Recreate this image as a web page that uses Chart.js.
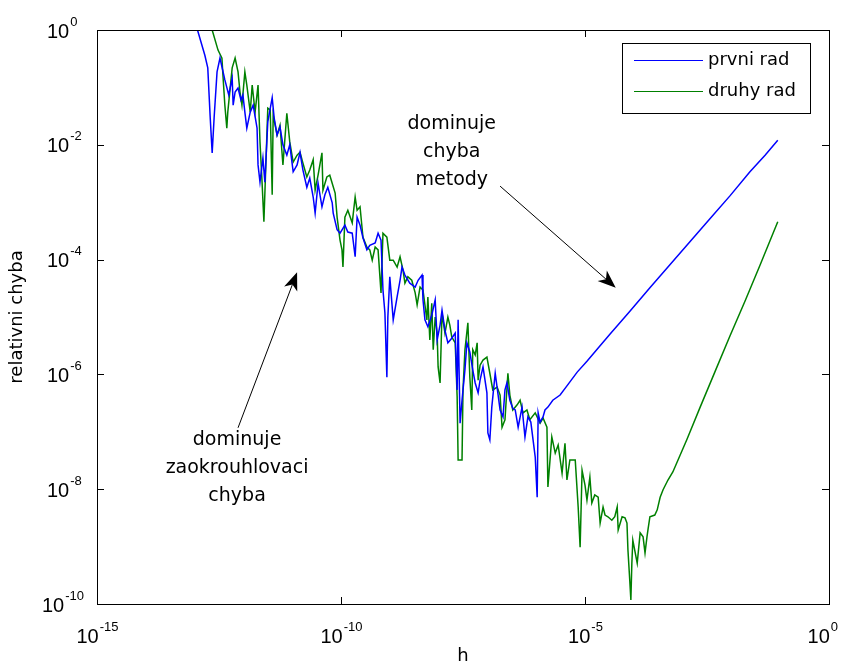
<!DOCTYPE html>
<html>
<head>
<meta charset="utf-8">
<script src="https://cdn.jsdelivr.net/npm/chart.js@4.4.1/dist/chart.umd.min.js"></script>
<style>
  html, body { margin: 0; padding: 0; background: #ffffff; }
  canvas { display: block; }
</style>
</head>
<body>
<canvas id="chart" width="842" height="668"></canvas>
<script>
'use strict';

// log10 of step h and of relative error
const hExpFirst = [
  -13.03, -12.79, -12.73, -12.68, -12.64, -12.60, -12.54, -12.48, -12.38, -12.30,
  -12.23, -12.21, -12.17, -12.11, -12.05, -12.01, -11.97, -11.93, -11.86, -11.80,
  -11.72, -11.70, -11.66, -11.60, -11.56, -11.50, -11.41, -11.37, -11.31, -11.25,
  -11.19, -11.11, -11.05, -10.98, -10.90, -10.84, -10.78, -10.70, -10.64, -10.57,
  -10.53, -10.47, -10.39, -10.33, -10.27, -10.18, -10.16, -10.08, -10.02, -9.92,
  -9.86, -9.77, -9.71, -9.67, -9.61, -9.55, -9.47, -9.41, -9.30, -9.24,
  -9.18, -9.14, -9.10, -9.06, -9.04, -9.00, -8.93, -8.85, -8.79, -8.75,
  -8.69, -8.59, -8.48, -8.42, -8.34, -8.32, -8.28, -8.22, -8.14, -8.07,
  -8.03, -7.97, -7.93, -7.87, -7.81, -7.73, -7.66, -7.62, -7.60, -7.56,
  -7.52, -7.46, -7.42, -7.36, -7.30, -7.25, -7.19, -7.15, -7.09, -7.01,
  -6.99, -6.95, -6.91, -6.84, -6.78, -6.74, -6.68, -6.64, -6.60, -6.54,
  -6.48, -6.43, -6.37, -6.29, -6.23, -6.17, -6.11, -6.02, -5.98, -5.96,
  -5.92, -5.86, -5.82, -5.76, -5.66, -5.51, -5.37, -5.16, -4.96, -4.73,
  -4.49, -4.08, -3.67, -3.26, -2.85, -2.44, -2.03, -1.62, -1.31, -1.05
];
const errExpFirst = [
  0.26, -0.44, -0.66, -1.53, -2.14, -1.53, -0.73, -0.49, -0.87, -1.13,
  -0.84, -1.31, -1.08, -1.01, -1.22, -1.13, -1.43, -1.71, -1.43, -1.31,
  -1.71, -2.35, -2.65, -2.23, -2.65, -1.60, -1.18, -1.53, -1.83, -1.69,
  -2.00, -2.18, -2.00, -2.47, -2.35, -2.13, -2.44, -2.74, -2.58, -2.91,
  -3.19, -2.67, -3.08, -2.87, -2.74, -3.01, -3.19, -3.48, -3.54, -3.40,
  -3.52, -3.54, -3.95, -3.26, -3.40, -3.62, -3.83, -3.75, -3.71, -3.54,
  -3.66, -4.53, -4.93, -6.05, -5.00, -4.30, -5.05, -4.65, -4.36, -4.13,
  -4.27, -4.41, -4.48, -4.36, -4.27, -4.70, -5.05, -5.17, -4.97, -4.70,
  -5.40, -5.14, -4.88, -5.23, -5.45, -5.37, -5.28, -6.27, -5.05, -6.85,
  -6.45, -5.92, -5.45, -5.61, -5.92, -6.15, -6.32, -6.10, -5.87, -6.32,
  -7.02, -7.14, -6.57, -5.98, -6.36, -6.62, -6.74, -6.27, -6.15, -6.45,
  -6.59, -6.62, -6.92, -6.57, -7.09, -6.74, -6.83, -7.44, -8.14, -6.67,
  -6.83, -6.74, -6.62, -6.57, -6.45, -6.36, -6.20, -5.96, -5.77, -5.54,
  -5.30, -4.90, -4.49, -4.09, -3.69, -3.29, -2.89, -2.47, -2.18, -1.92
];

const hExpSecond = [
  -12.73, -12.64, -12.52, -12.44, -12.42, -12.38, -12.34, -12.32, -12.23, -12.17,
  -12.11, -12.07, -12.03, -11.97, -11.93, -11.86, -11.82, -11.76, -11.70, -11.66,
  -11.62, -11.58, -11.54, -11.50, -11.45, -11.41, -11.39, -11.31, -11.25, -11.19,
  -11.11, -11.05, -10.98, -10.90, -10.84, -10.78, -10.70, -10.64, -10.57, -10.53,
  -10.47, -10.39, -10.37, -10.29, -10.23, -10.12, -10.08, -10.02, -9.98, -9.96,
  -9.92, -9.86, -9.77, -9.71, -9.67, -9.61, -9.55, -9.47, -9.41, -9.36,
  -9.30, -9.24, -9.18, -9.14, -9.06, -9.00, -8.93, -8.85, -8.79, -8.73,
  -8.69, -8.63, -8.55, -8.48, -8.44, -8.38, -8.32, -8.24, -8.22, -8.18,
  -8.14, -8.11, -8.07, -8.03, -8.01, -7.97, -7.93, -7.87, -7.81, -7.77,
  -7.73, -7.66, -7.62, -7.60, -7.52, -7.50, -7.46, -7.40, -7.36, -7.32,
  -7.30, -7.25, -7.21, -7.19, -7.15, -7.09, -7.01, -6.95, -6.89, -6.80,
  -6.74, -6.70, -6.64, -6.58, -6.54, -6.48, -6.39, -6.33, -6.27, -6.19,
  -6.13, -6.02, -5.92, -5.86, -5.78, -5.76, -5.68, -5.61, -5.55, -5.47,
  -5.41, -5.37, -5.31, -5.20, -5.14, -5.10, -5.06, -5.00, -4.96, -4.90,
  -4.86, -4.80, -4.73, -4.69, -4.63, -4.59, -4.53, -4.45, -4.39, -4.34,
  -4.32, -4.24, -4.18, -4.14, -4.12, -4.08, -4.06, -4.04, -4.02, -3.93,
  -3.87, -3.81, -3.77, -3.73, -3.71, -3.67, -3.57, -3.52, -3.46, -3.40,
  -3.30, -3.20, -2.91, -2.64, -2.34, -2.03, -1.72, -1.41, -1.05
];
const errExpSecond = [
  0.26, 0.00, -0.35, -0.49, -0.78, -1.31, -1.71, -1.43, -0.66, -0.49,
  -0.73, -1.08, -1.31, -0.73, -0.96, -1.43, -0.96, -1.43, -0.96, -1.95,
  -2.61, -3.34, -2.35, -1.36, -1.39, -2.87, -1.48, -1.83, -1.66, -2.35,
  -1.45, -1.95, -2.30, -2.18, -2.13, -2.32, -2.56, -2.44, -2.26, -2.79,
  -2.53, -2.14, -2.79, -2.56, -2.53, -2.84, -3.26, -3.66, -3.83, -4.13,
  -3.26, -3.14, -3.36, -2.91, -3.14, -3.08, -3.61, -3.78, -3.83, -4.01,
  -3.78, -3.83, -4.58, -3.54, -3.61, -4.01, -4.01, -4.13, -3.95, -4.18,
  -4.41, -4.30, -4.36, -4.58, -4.79, -4.48, -4.53, -5.05, -4.65, -5.40,
  -4.76, -5.57, -5.00, -5.28, -5.87, -6.15, -4.93, -5.28, -5.00, -5.14,
  -5.35, -5.45, -6.39, -7.49, -7.49, -6.27, -5.57, -5.10, -6.05, -6.62,
  -5.57, -5.66, -5.45, -6.10, -5.84, -5.75, -5.70, -5.98, -6.27, -6.22,
  -6.36, -6.92, -6.79, -5.98, -6.36, -6.62, -6.53, -6.45, -6.67, -6.62,
  -6.79, -6.67, -6.85, -6.76, -6.92, -7.96, -7.09, -7.37, -7.23, -7.72,
  -7.20, -7.84, -7.49, -7.49, -8.31, -9.01, -7.67, -7.93, -8.19, -7.79,
  -8.24, -8.10, -8.14, -8.59, -8.31, -8.45, -8.48, -8.54, -8.48, -8.31,
  -8.71, -8.48, -8.50, -8.59, -9.06, -9.63, -9.93, -9.29, -8.89, -9.29,
  -8.76, -8.83, -9.11, -8.83, -8.71, -8.48, -8.45, -8.36, -8.14, -8.01,
  -7.84, -7.70, -7.13, -6.57, -5.96, -5.33, -4.72, -4.09, -3.34
];

const seriesNames = ['prvni rad', 'druhy rad'];
const xTickExps = [-15, -10, -5, 0];
const yTickExps = [0, -2, -4, -6, -8, -10];

// annotation texts and arrows, in data exponents
const noteMethod = { lines: ['dominuje', 'chyba', 'metody'], at: [-7.73, -1.64], arrow: [-6.74, -2.72, -4.37, -4.49] };
const noteRound = { lines: ['dominuje', 'zaokrouhlovaci', 'chyba'], at: [-12.13, -7.14], arrow: [-12.11, -6.93, -10.90, -4.22] };

const toPoints = (hs, es) => hs.map((h, i) => ({ x: Math.pow(10, h), y: Math.pow(10, es[i]) }));

const TICK_FONT = '"Liberation Sans", Arial, sans-serif';
const TEXT_FONT = '"DejaVu Sans", Verdana, sans-serif';

function drawPow(ctx, exp, x, y, mode, maxRight) {
  const base = '10';
  const sup = String(exp);
  ctx.font = '20px ' + TICK_FONT;
  const wb = ctx.measureText(base).width;
  ctx.font = '13px ' + TICK_FONT;
  const ws = ctx.measureText(sup).width;
  let left = x;
  if (mode === 'center') left = Math.min(x - (wb + ws) / 2, maxRight - wb - ws - 1);
  ctx.textAlign = 'left';
  ctx.textBaseline = 'middle';
  ctx.font = '20px ' + TICK_FONT;
  ctx.fillText(base, left, y);
  ctx.font = '13px ' + TICK_FONT;
  ctx.fillText(sup, left + wb + 1, y - 10);
}

function drawArrow(ctx, x1, y1, x2, y2) {
  const dx = x2 - x1, dy = y2 - y1;
  const len = Math.hypot(dx, dy);
  const ux = dx / len, uy = dy / len;
  const nx = -uy, ny = ux;
  const L = 18, W = 7, notch = 5;
  ctx.beginPath();
  ctx.moveTo(x1, y1);
  ctx.lineTo(x2 - ux * (L - notch), y2 - uy * (L - notch));
  ctx.stroke();
  ctx.beginPath();
  ctx.moveTo(x2, y2);
  ctx.lineTo(x2 - ux * L + nx * W, y2 - uy * L + ny * W);
  ctx.lineTo(x2 - ux * (L - notch), y2 - uy * (L - notch));
  ctx.lineTo(x2 - ux * L - nx * W, y2 - uy * L - ny * W);
  ctx.closePath();
  ctx.fill();
}

const matlabAxes = {
  id: 'matlabAxes',
  afterDatasetsDraw(chart) {
    const ctx = chart.ctx;
    const { left, right, top, bottom } = chart.chartArea;
    const xs = chart.scales.x, ys = chart.scales.y;
    const px = e => xs.getPixelForValue(Math.pow(10, e));
    const py = e => ys.getPixelForValue(Math.pow(10, e));
    ctx.save();
    ctx.strokeStyle = '#000';
    ctx.fillStyle = '#000';
    ctx.lineWidth = 1;

    // box
    ctx.strokeRect(Math.round(left) + 0.5, Math.round(top) + 0.5, Math.round(right - left), Math.round(bottom - top));

    // ticks (inward, mirrored)
    const tl = 7;
    ctx.beginPath();
    xTickExps.forEach(e => {
      const x = Math.round(px(e)) + 0.5;
      ctx.moveTo(x, bottom); ctx.lineTo(x, bottom - tl);
      ctx.moveTo(x, top); ctx.lineTo(x, top + tl);
    });
    yTickExps.forEach(e => {
      const y = Math.round(py(e)) + 0.5;
      ctx.moveTo(left, y); ctx.lineTo(left + tl, y);
      ctx.moveTo(right, y); ctx.lineTo(right - tl, y);
    });
    ctx.stroke();

    // tick labels
    xTickExps.forEach(e => drawPow(ctx, e, px(e), bottom + 33, 'center', chart.width - 4));
    yTickExps.forEach(e => drawPow(ctx, e, left - (String(e).length > 2 ? 55 : 50), py(e) + 2, 'left'));

    // axis titles
    ctx.font = '18px ' + TEXT_FONT;
    ctx.textAlign = 'center';
    ctx.textBaseline = 'middle';
    ctx.fillText('h', (left + right) / 2, bottom + 52);
    ctx.save();
    ctx.translate(left - 80, (top + bottom) / 2);
    ctx.rotate(-Math.PI / 2);
    ctx.fillText('relativni chyba', 0, 0);
    ctx.restore();

    // annotations
    [noteMethod, noteRound].forEach(n => {
      ctx.font = '19px ' + TEXT_FONT;
      ctx.textAlign = 'center';
      ctx.textBaseline = 'middle';
      const cx = px(n.at[0]);
      const cy = py(n.at[1]);
      n.lines.forEach((t, i) => ctx.fillText(t, cx, cy + i * 28));
      const a = n.arrow;
      drawArrow(ctx, px(a[0]), py(a[1]), px(a[2]), py(a[3]));
    });

    // legend
    const lx = right - 207, ly = top + 13, lw = 188, lh = 70;
    ctx.fillStyle = '#fff';
    ctx.fillRect(lx, ly, lw, lh);
    ctx.strokeStyle = '#000';
    ctx.strokeRect(lx + 0.5, ly + 0.5, lw, lh);
    chart.data.datasets.forEach((ds, i) => {
      const yy = ly + 17 + i * 31;
      ctx.strokeStyle = ds.borderColor;
      ctx.beginPath();
      ctx.moveTo(lx + 12, yy + 0.5);
      ctx.lineTo(lx + 81, yy + 0.5);
      ctx.stroke();
      ctx.fillStyle = '#000';
      ctx.font = '18px ' + TEXT_FONT;
      ctx.textAlign = 'left';
      ctx.textBaseline = 'middle';
      ctx.fillText(ds.label, lx + 86, yy);
    });
    ctx.restore();
  }
};

const canvas = document.querySelector('#chart');
const chart = new Chart(canvas.getContext('2d'), {
  type: 'scatter',
  data: {
    datasets: [{
      label: seriesNames[0],
      data: toPoints(hExpFirst, errExpFirst),
      borderColor: '#0000ff',
      backgroundColor: '#0000ff',
      showLine: true,
      borderWidth: 1.5,
      pointRadius: 0,
      tension: 0
    }, {
      label: seriesNames[1],
      data: toPoints(hExpSecond, errExpSecond),
      borderColor: '#008000',
      backgroundColor: '#008000',
      showLine: true,
      borderWidth: 1.5,
      pointRadius: 0,
      tension: 0
    }]
  },
  options: {
    responsive: false,
    animation: false,
    layout: { padding: { left: 97, right: 13, top: 30, bottom: 64 } },
    scales: {
      x: { type: 'logarithmic', min: 1e-15, max: 1, display: false },
      y: { type: 'logarithmic', min: 1e-10, max: 1, display: false }
    },
    plugins: {
      legend: { display: false },
      tooltip: { enabled: false }
    }
  },
  plugins: [matlabAxes]
});
</script>
</body>
</html>
